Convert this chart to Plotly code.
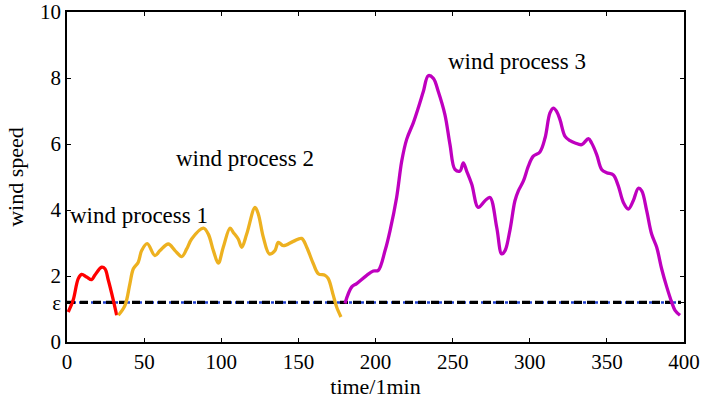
import plotly.graph_objects as go

# Wind process 1 (red)
t1 = [0.8, 4, 7.3, 9.5, 12.7, 16, 18, 22.5, 24.6, 26.8, 30, 32.2]
v1 = [0.91, 1.27, 1.92, 2.05, 1.97, 1.89, 2.02, 2.27, 2.22, 1.87, 1.27, 0.81]

# Wind process 2 (orange)
t2 = [33.3, 37.6, 40.8, 43, 46.2, 48.4, 52, 57, 60.3, 65.7, 70, 74.4, 77.6, 80.8, 88.4, 91.6,
      94.9, 98.1, 101.3, 105.7, 107.8, 111, 113.3, 116.5, 121.9, 124, 127.3, 131.2, 134.8,
      137, 140.2, 146.7, 152.1, 155.4, 159.7, 162.9, 167.3, 169.4, 172.6, 174.8, 177.6]
v2 = [0.81, 1.11, 1.77, 2.22, 2.42, 2.77, 2.98, 2.62, 2.77, 2.97, 2.77, 2.59, 2.82, 3.12, 3.45, 3.27,
      2.77, 2.39, 2.87, 3.45, 3.32, 3.12, 2.87, 3.27, 4.08, 3.88, 3.17, 2.67, 2.77,
      3.02, 2.92, 3.05, 3.14, 2.87, 2.37, 2.07, 2.02, 1.92, 1.42, 1.06, 0.76]

# Wind process 3 (magenta)
t3 = [180.2, 184.6, 187.8, 194.3, 198.6, 201.8, 206.2, 209.4, 213.7, 217, 220.2, 224.5, 227.7,
      231, 234.2, 237.5, 240.7, 245, 248.3, 251.5, 254.8, 256.9, 259.1, 262.4, 266.6, 271,
      274.2, 278.6, 281.8, 284, 287.2, 290.4, 292.6, 295.9, 299.1, 302.3, 306.6, 309.9, 313.1,
      315.3, 317.4, 319.6, 322.9, 326.1, 329.4, 333.7, 338, 340.1, 343.4, 346.6, 349.9, 354.2,
      357.4, 360.7, 363.9, 367.1, 370.4, 372.6, 375.8, 379, 382.3, 385.5, 388.8, 392, 394.2, 397.4]
v3 = [1.17, 1.67, 1.77, 2.02, 2.15, 2.17, 2.77, 3.37, 4.38, 5.48, 6.14, 6.64, 7.09,
      7.59, 8.07, 7.99, 7.59, 6.89, 5.98, 5.23, 5.18, 5.43, 5.18, 4.78, 4.08, 4.28,
      4.38, 3.47, 2.67, 2.77, 3.4, 4.28, 4.58, 4.88, 5.33, 5.63, 5.76, 6.18, 6.94,
      7.09, 6.99, 6.74, 6.23, 6.1, 6.03, 5.98, 6.16, 6.03, 5.68, 5.23, 5.13, 5.06,
      4.73, 4.23, 4.03, 4.28, 4.66, 4.58, 3.98, 3.27, 2.87, 2.22, 1.67, 1.21, 0.96, 0.81]

eps = 1.2
eps_x = [0, 398]

labels = ["wind process 1", "wind process 2", "wind process 3"]
label_x = [46.5, 115.7, 291.7]
label_y = [3.83, 5.57, 8.49]

xticks = [0, 50, 100, 150, 200, 250, 300, 350, 400]
yticks = [0, eps, 2, 4, 6, 8, 10]
ytext = ["0", "ε", "2", "4", "6", "8", "10"]

FONT = "Liberation Serif, Times New Roman, serif"

fig = go.Figure()
fig.add_trace(go.Scatter(x=eps_x, y=[eps, eps], mode="lines",
                         line=dict(color="#2040d0", width=2.5, dash="dot"), showlegend=False))
fig.add_trace(go.Scatter(x=eps_x, y=[eps, eps], mode="lines",
                         line=dict(color="black", width=3.2, dash="8px,5px"), showlegend=False))
fig.add_trace(go.Scatter(x=t1, y=v1, mode="lines", line=dict(color="#FF0000", width=3.3, shape="spline"),
                         showlegend=False))
fig.add_trace(go.Scatter(x=t2, y=v2, mode="lines", line=dict(color="#EDB120", width=3.3, shape="spline"),
                         showlegend=False))
fig.add_trace(go.Scatter(x=t3, y=v3, mode="lines", line=dict(color="#BF00BF", width=3.3, shape="spline"),
                         showlegend=False))

for txt, lx, ly in zip(labels, label_x, label_y):
    fig.add_annotation(x=lx, y=ly, text=txt, showarrow=False,
                       font=dict(family=FONT, size=23, color="black"))

axis_common = dict(showline=True, linecolor="black", linewidth=1.5, mirror="ticks",
                   ticks="inside", ticklen=4, tickcolor="black", showgrid=False, zeroline=False,
                   automargin=False, ticklabeloverflow="allow",
                   tickfont=dict(family=FONT, size=21, color="black"))

fig.update_xaxes(range=[0, 400], tickvals=xticks,
                 title=dict(text="time/1min", font=dict(family=FONT, size=22, color="black"), standoff=0),
                 **axis_common)
fig.update_yaxes(range=[0, 10], tickvals=yticks, ticktext=ytext,
                 title=dict(text="wind speed", font=dict(family=FONT, size=22, color="black"), standoff=10),
                 **axis_common)

fig.update_layout(width=705, height=399, margin=dict(l=67, r=21, t=12, b=57),
                  plot_bgcolor="white", paper_bgcolor="white")

fig.write_html("out.html", config={"displayModeBar": False})

# remove default page margin so the figure sits at the top-left corner
with open("out.html", "r", encoding="utf-8") as f:
    html = f.read()
html = html.replace("<head>", "<head><style>html,body{margin:0;padding:0;overflow:hidden;}</style>", 1)
with open("out.html", "w", encoding="utf-8") as f:
    f.write(html)
